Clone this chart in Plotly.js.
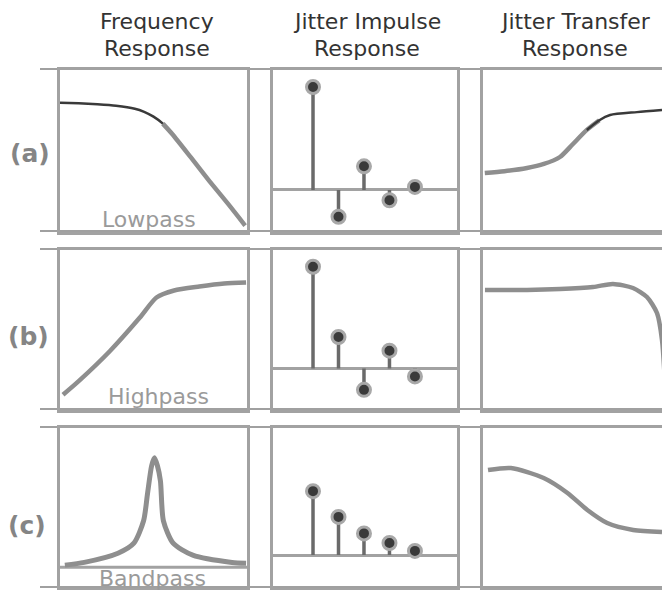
<!DOCTYPE html>
<html>
<head>
<meta charset="utf-8">
<script src="https://cdn.plot.ly/plotly-3.0.1.min.js"></script>
<style>html,body{margin:0;padding:0;background:#fff;}#chart{width:662px;height:590px;}</style>
</head>
<body>
<div id="chart"></div>
<script>
// ---- data (normalized panel units) ----
const columnTitles = [["Frequency", "Response"], ["Jitter Impulse", "Response"], ["Jitter Transfer", "Response"]];
const rowLabels = ["(a)", "(b)", "(c)"];
const filterNames = ["Lowpass", "Highpass", "Bandpass"];

const lowpassX = [0, 0.1, 0.2, 0.3, 0.4, 0.45, 0.5, 0.55, 0.6, 0.7, 0.8, 0.9, 0.99];
const lowpassY = [0.798, 0.794, 0.788, 0.779, 0.761, 0.742, 0.712, 0.669, 0.605, 0.46, 0.313, 0.172, 0.04];

const highpassX = [0.016, 0.1, 0.266, 0.426, 0.516, 0.61, 0.745, 0.878, 0.995];
const highpassY = [0.095, 0.18, 0.367, 0.576, 0.703, 0.747, 0.772, 0.791, 0.797];

const bandpassX = [0.026, 0.13, 0.31, 0.395, 0.447, 0.468, 0.49, 0.505, 0.521, 0.537, 0.553, 0.605, 0.71, 0.92, 0.995];
const bandpassY = [0.143, 0.16, 0.217, 0.28, 0.42, 0.59, 0.764, 0.814, 0.764, 0.67, 0.42, 0.28, 0.205, 0.16, 0.155];

const taps = [1, 2, 3, 4, 5];
const impulseA = [1.0, -0.26, 0.23, -0.10, 0.03];
const impulseB = [1.0, 0.31, -0.21, 0.175, -0.078];
const impulseC = [0.62, 0.37, 0.21, 0.117, 0.04];

const transferAX = [0.01, 0.12, 0.246, 0.34, 0.43, 0.5, 0.58, 0.65, 0.71, 0.86, 1.0];
const transferAY = [0.364, 0.375, 0.395, 0.42, 0.463, 0.54, 0.63, 0.69, 0.722, 0.74, 0.753];

const transferBX = [0.011, 0.246, 0.43, 0.615, 0.726, 0.838, 0.916, 0.972, 1.0, 1.02];
const transferBY = [0.75, 0.75, 0.756, 0.769, 0.788, 0.7625, 0.706, 0.606, 0.4375, 0.1];

const transferCX = [0.028, 0.156, 0.339, 0.472, 0.583, 0.694, 0.839, 1.0];
const transferCY = [0.7375, 0.75, 0.6875, 0.594, 0.4875, 0.406, 0.3625, 0.35];

// ---- layout helpers ----
const W = 662, H = 590;
const px = v => v / W;
const py = v => 1 - v / H;
const colPx = [[60, 247], [273, 457], [483, 662]];
const rowPx = [[70, 232], [250, 410], [428, 588]];

const FRAME = '#a2a2a2';
const CURVE = '#8e8e8e';
const DARK = '#3a3a3a';

const traces = [];
const layout = {
  width: W, height: H,
  margin: {l: 0, r: 0, t: 0, b: 0},
  paper_bgcolor: '#fff', plot_bgcolor: '#fff',
  showlegend: false,
  font: {family: 'DejaVu Sans, sans-serif', color: '#333'},
  annotations: [], shapes: []
};

function axisIdx(r, c) { return r * 3 + c + 1; }

for (let r = 0; r < 3; r++) {
  for (let c = 0; c < 3; c++) {
    const i = axisIdx(r, c);
    const xk = 'xaxis' + (i === 1 ? '' : i), yk = 'yaxis' + (i === 1 ? '' : i);
    const stem = (c === 1);
    let xr = [0, 1], yr = [0, 1];
    if (stem) {
      xr = [-0.57, 6.65];
      yr = (r === 2) ? [-0.32, 1.233] : [-0.408, 1.165];
    }
    layout[xk] = {
      domain: [px(colPx[c][0]), px(colPx[c][1])], range: xr,
      anchor: 'y' + (i === 1 ? '' : i),
      showgrid: false, zeroline: false, showticklabels: false, ticks: '',
      showline: true, mirror: true, linecolor: FRAME, linewidth: 3, fixedrange: true
    };
    layout[yk] = {
      domain: [py(rowPx[r][1]), py(rowPx[r][0])], range: yr,
      anchor: 'x' + (i === 1 ? '' : i),
      showgrid: false, showticklabels: false, ticks: '',
      zeroline: stem, zerolinecolor: FRAME, zerolinewidth: 3,
      showline: true, mirror: (c !== 2), linecolor: FRAME, linewidth: 3, fixedrange: true
    };
  }
}

function ax(r, c) { const i = axisIdx(r, c); return {xaxis: 'x' + (i === 1 ? '' : i), yaxis: 'y' + (i === 1 ? '' : i)}; }

function curve(r, c, xs, ys, color, width) {
  traces.push(Object.assign({
    type: 'scatter', mode: 'lines', x: xs, y: ys, hoverinfo: 'skip',
    line: {color: color, width: width, shape: 'spline', smoothing: 0.7}
  }, ax(r, c)));
}

// frequency responses
curve(0, 0, lowpassX.slice(0, 9), lowpassY.slice(0, 9), DARK, 2.5);
curve(0, 0, lowpassX.slice(7), lowpassY.slice(7), CURVE, 4.5);
curve(1, 0, highpassX, highpassY, CURVE, 4.5);
curve(2, 0, bandpassX, bandpassY, CURVE, 5);

// jitter transfer responses
curve(0, 2, transferAX.slice(0, 8), transferAY.slice(0, 8), CURVE, 4.5);
curve(0, 2, transferAX.slice(6), transferAY.slice(6), DARK, 2.5);
curve(1, 2, transferBX, transferBY, CURVE, 4.5);
curve(2, 2, transferCX, transferCY, CURVE, 4.5);

// impulse responses (stems)
function stems(r, vals) {
  const sx = [], sy = [];
  taps.forEach((t, k) => { sx.push(t, t, null); sy.push(0, vals[k], null); });
  traces.push(Object.assign({
    type: 'scatter', mode: 'lines', x: sx, y: sy, hoverinfo: 'skip',
    line: {color: '#6a6a6a', width: 3.5}
  }, ax(r, 1)));
  traces.push(Object.assign({
    type: 'scatter', mode: 'markers', x: taps, y: vals, hoverinfo: 'skip',
    marker: {size: 13, color: DARK, line: {color: '#a8a8a8', width: 3}}
  }, ax(r, 1)));
}
stems(0, impulseA);
stems(1, impulseB);
stems(2, impulseC);

// bandpass baseline line inside panel
layout.shapes.push({type: 'line', xref: 'x7', yref: 'y7', x0: 0, x1: 1, y0: 0.13, y1: 0.13,
  line: {color: FRAME, width: 3}, layer: 'below'});

// horizontal separator lines through the gaps
rowPx.forEach(([t, b]) => {
  [t, b].forEach(y => {
    layout.shapes.push({type: 'line', xref: 'paper', yref: 'paper', x0: px(40), x1: 1, y0: py(y - 1), y1: py(y - 1),
      line: {color: '#a0a0a0', width: 2}, layer: 'below'});
  });
});

// column titles
const titleCx = [157, 367, 575];
columnTitles.forEach((lines, c) => {
  lines.forEach((txt, k) => {
    layout.annotations.push({text: txt, xref: 'paper', yref: 'paper', x: px(titleCx[c]), y: py(k === 0 ? 22 : 48),
      xanchor: 'center', yanchor: 'middle', showarrow: false,
      font: {family: 'DejaVu Sans, sans-serif', size: 22, color: '#333'}});
  });
});

// row labels
const rowLabelPos = [[30, 153], [28, 336], [27, 525]];
rowLabels.forEach((t, r) => {
  layout.annotations.push({text: t, xref: 'paper', yref: 'paper', x: px(rowLabelPos[r][0]), y: py(rowLabelPos[r][1]),
    xanchor: 'center', yanchor: 'middle', showarrow: false,
    font: {family: 'DejaVu Sans, sans-serif', size: 25, color: '#858585', weight: 'bold'}});
});

// filter names
const namePos = [[149, 219], [158, 396], [152, 578]];
filterNames.forEach((t, r) => {
  layout.annotations.push({text: t, xref: 'paper', yref: 'paper', x: px(namePos[r][0]), y: py(namePos[r][1]),
    xanchor: 'center', yanchor: 'middle', showarrow: false,
    font: {family: 'DejaVu Sans, sans-serif', size: 22, color: '#9a9a9a'}});
});

Plotly.newPlot('chart', traces, layout, {staticPlot: true, displayModeBar: false});
</script>
</body>
</html>
